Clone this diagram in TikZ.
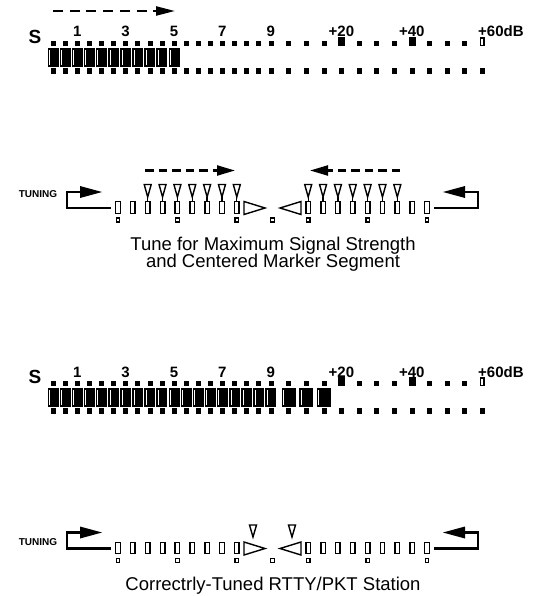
\documentclass[tikz,border=0pt]{standalone}
\usepackage{fontspec}
\setmainfont{Liberation Sans}
\usetikzlibrary{arrows.meta}
\tikzset{
  lblbig/.style={font=\fontsize{19}{19}\selectfont\bfseries, inner sep=0pt, anchor=base},
  lblnum/.style={font=\fontsize{15}{15}\selectfont\bfseries, inner sep=0pt, anchor=base},
  tuninglbl/.style={font=\fontsize{10}{10}\selectfont\bfseries, inner sep=0pt},
  captxt/.style={font=\fontsize{18.5}{18.5}\selectfont, inner sep=0pt, anchor=base},
  dotbox/.style={draw=black, fill=black, line width=0.6pt},
  hollowbox/.style={draw=black, fill=white, line width=1.3pt},
  segbox/.style={draw=black, fill=white, line width=1.4pt},
  brk/.style={line width=2.3pt},
  dasharrow/.style={line width=2.2pt, dash pattern=on 8.5pt off 5pt, -{Triangle[length=18pt,width=10pt]}},
}
\newcommand\MeterRow[4]{%
\begin{scope}[shift={(0,#2)}]
  \node[lblbig] (#1S) at (35,43.3) {S};
  \foreach \n/\i in {1/2,3/6,5/10,7/14,9/18} \node[lblnum] (#1n\n) at ({53+12.1*\i},37) {\n};
  \node[lblnum] (#1ptw) at (341.4,37) {+20};
  \node[lblnum] (#1pfo) at (411.8,37) {+40};
  \node[lblnum, anchor=base west] (#1psi) at (478,37) {+60dB};
  \foreach \i in {0,...,18} \draw[dotbox] ({53+12.1*\i-2},41.2) rectangle ++(4,3.8);
  \foreach \j in {1,2,3,5,6,7,9,10,11} \draw[dotbox] ({271+17.6*\j-2},41.2) rectangle ++(4,3.8);
  \foreach \j in {4,8} \draw[dotbox] ({271+17.6*\j-3},37.5) rectangle ++(6,8);
  \draw[hollowbox] (480.4,38) rectangle ++(3.6,7.5);
  \foreach \i in {0,...,#3} {
    \fill ({53+12.1*\i-5.5},48) rectangle ++(11,19);
    \draw[white, line width=0.8pt] ({53+12.1*\i-3.6},50) -- ++(0,15);
  }
  \ifnum#4>0
  \foreach \j in {1,...,#4} {
    \fill ({271+17.6*\j-7},48) rectangle ++(14,19);
    \draw[white, line width=0.8pt] ({271+17.6*\j-5.1},50) -- ++(0,15);
  }
  \fi
  \foreach \i in {0,...,18} \draw[dotbox] ({53+12.1*\i-2},68.5) rectangle ++(4,5);
  \foreach \j in {1,...,12} \draw[dotbox] ({271+17.6*\j-2},68.5) rectangle ++(4,5);
\end{scope}}
\newcommand\TuningRow[3]{%
\begin{scope}[shift={(0,#2)}]
  \node[tuninglbl] (#1lbl) at (38,#3) {TUNING};
  \draw[brk] (81,192) -- (67,192) -- (67,208) -- (111,208);
  \fill (80,186) -- (102,192) -- (80,198) -- cycle;
  \draw[brk] (464,192) -- (478,192) -- (478,208) -- (434,208);
  \fill (465,186) -- (443,192) -- (465,198) -- cycle;
  \foreach \k in {0,...,8} {
    \draw[segbox] ({118+14.85*\k-2.25},201.75) rectangle ++(4.5,11.5);
    \draw[segbox] ({308.2+14.85*\k-2.25},201.75) rectangle ++(4.5,11.5);
  }
  \foreach \k in {0,4,8} {
    \draw[hollowbox] ({118+14.85*\k-1.75},218) rectangle ++(3.5,4);
    \draw[hollowbox] ({308.2+14.85*\k-1.75},218) rectangle ++(3.5,4);
  }
  \draw[hollowbox] (270.75,218) rectangle ++(3.5,4);
  \draw[segbox] (244,201.5) -- (265,208) -- (244,214.5) -- cycle;
  \draw[segbox] (301,201.5) -- (280,208) -- (301,214.5) -- cycle;
\end{scope}}
\begin{document}
\begin{tikzpicture}[x=1pt,y=-1pt]
\useasboundingbox (0,0) rectangle (538,596);
\fill[white] (0,0) rectangle (538,596);
% meter 1
\coordinate (ma) at (53,11);
\coordinate (mb) at (175,11);
\draw[dasharrow, dash pattern=on 10pt off 6.7pt, -{Triangle[length=19pt,width=9pt]}] (ma) -- (mb);
\MeterRow{ma}{0}{10}{0}
% tuning 1
\TuningRow{ta}{0}{194}
\foreach \k in {2,...,8} {
  \draw[segbox] ({118+14.85*\k-3.5},184.5) -- ({118+14.85*\k+3.5},184.5) -- ({118+14.85*\k},197) -- cycle;
  \draw[line width=1.3pt] ({118+14.85*\k},197) -- ({118+14.85*\k},201.75);
}
\foreach \k in {0,...,6} {
  \draw[segbox] ({308.2+14.85*\k-3.5},184.5) -- ({308.2+14.85*\k+3.5},184.5) -- ({308.2+14.85*\k},197) -- cycle;
  \draw[line width=1.3pt] ({308.2+14.85*\k},197) -- ({308.2+14.85*\k},201.75);
}
\coordinate (la) at (145,170.5);
\coordinate (lb) at (235,170.5);
\coordinate (ra) at (400,170.5);
\coordinate (rb) at (310,170.5);
\draw[dasharrow] (la) -- (lb);
\draw[dasharrow] (ra) -- (rb);
\node[captxt] (capa) at (273,250) {Tune for Maximum Signal Strength};
\node[captxt] (capb) at (273,267) {and Centered Marker Segment};
% meter 2
\MeterRow{mb}{340}{18}{3}
% tuning 2
\TuningRow{tb}{340.5}{201.5}
\draw[segbox] (249.5,525) -- (256.5,525) -- (253,537) -- cycle;
\draw[segbox] (288.5,525) -- (295.5,525) -- (292,537) -- cycle;
\node[captxt] (capc) at (273,590.5) {Correctrly-Tuned RTTY/PKT Station};
\end{tikzpicture}
\end{document}
